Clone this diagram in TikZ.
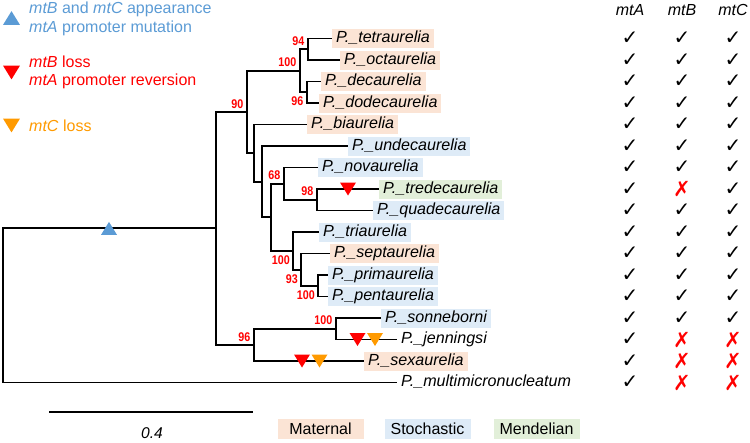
\documentclass[tikz,border=0pt]{standalone}
\usepackage{fontspec}
\setmainfont{Liberation Sans}
\newfontfamily\bsfont[FakeStretch=0.85]{Liberation Sans}
\newfontfamily\symfont{DejaVu Sans}
\definecolor{matfill}{HTML}{FBE4D5}
\definecolor{stofill}{HTML}{DEEBF7}
\definecolor{menfill}{HTML}{E2EFD9}
\definecolor{mtblue}{HTML}{5B9BD5}
\definecolor{mtred}{HTML}{FF0000}
\definecolor{mtorange}{HTML}{FF9A00}
\begin{document}
\begin{tikzpicture}[x=1pt,y=-1pt,
  branch/.style={line width=1.9pt, draw=black},
  leaf/.style={anchor=west, font=\fontsize{16.1}{18}\selectfont\itshape, inner xsep=4pt, inner ysep=2pt, text height=11.5pt, text depth=3.5pt},
  bsa/.style={anchor=south east, inner sep=0pt, text=mtred, font=\fontsize{12.6}{14}\selectfont\bsfont\bfseries},
  bsb/.style={anchor=north east, inner sep=0pt, text=mtred, font=\fontsize{12.6}{14}\selectfont\bsfont\bfseries},
  leg/.style={anchor=west, inner xsep=4pt, inner ysep=0pt, font=\fontsize{16}{18}\selectfont},
  hdr/.style={inner sep=0pt, font=\fontsize{16}{18}\selectfont\itshape},
  chk/.style={inner sep=0pt, font=\fontsize{20}{22}\selectfont\symfont},
  crs/.style={inner sep=0pt, text=mtred, font=\fontsize{21}{22}\selectfont\symfont},
  catbox/.style={minimum width=86pt, minimum height=20pt, inner sep=0pt, font=\fontsize{16}{18}\selectfont},
  utri/.pic={\fill (-8,6.5) -- (8,6.5) -- (0,-6.5) -- cycle;},
  dtri/.pic={\fill (-8,-6.5) -- (8,-6.5) -- (0,6.5) -- cycle;}
]
\useasboundingbox (0,0) rectangle (750,442);

% ---------- legend (top left)
\pic[mtblue, scale=1.06] at (11.5,18) {utri};
\node[leg, text=mtblue] (l1a) at (25,9.5) {\textit{mtB} and \textit{mtC} appearance};
\node[leg, text=mtblue] (l1b) at (25,28) {\textit{mtA} promoter mutation};
\pic[mtred, scale=1.06] at (11.5,72.5) {dtri};
\node[leg, text=mtred] (l2a) at (25,62) {\textit{mtB} loss};
\node[leg, text=mtred] (l2b) at (25,81) {\textit{mtA} promoter reversion};
\pic[mtorange, scale=1.06] at (11.5,125.5) {dtri};
\node[leg, text=mtorange] (l3a) at (25,126) {\textit{mtC} loss};

% ---------- leaves
\node[leaf, fill=matfill] (tetra) at (332,38.5) {P.\_tetraurelia};
\node[leaf, fill=matfill] (octa) at (340,60) {P.\_octaurelia};
\node[leaf, fill=matfill] (deca) at (321,81.5) {P.\_decaurelia};
\node[leaf, fill=matfill] (dodeca) at (319,103) {P.\_dodecaurelia};
\node[leaf, fill=matfill] (bi) at (307,124.5) {P.\_biaurelia};
\node[leaf, fill=stofill] (undeca) at (348,146) {P.\_undecaurelia};
\node[leaf, fill=stofill] (nova) at (318,167.5) {P.\_novaurelia};
\node[leaf, fill=menfill] (tredeca) at (379,189) {P.\_tredecaurelia};
\node[leaf, fill=stofill] (quadeca) at (373,210.5) {P.\_quadecaurelia};
\node[leaf, fill=stofill] (tri) at (319,232) {P.\_triaurelia};
\node[leaf, fill=matfill] (septa) at (330,253.5) {P.\_septaurelia};
\node[leaf, fill=stofill] (prima) at (328,275) {P.\_primaurelia};
\node[leaf, fill=stofill] (penta) at (328,296.5) {P.\_pentaurelia};
\node[leaf, fill=stofill] (sonne) at (381,318) {P.\_sonneborni};
\node[leaf] (jenn) at (397,339.5) {P.\_jenningsi};
\node[leaf, fill=matfill] (sexa) at (364,361) {P.\_sexaurelia};
\node[leaf] (multi) at (397,382.5) {P.\_multimicronucleatum};

% ---------- internal nodes
\coordinate (D) at (308,49.25);
\coordinate (E) at (307,92.25);
\coordinate (C) at (300,70.75);
\coordinate (K) at (317,199.75);
\coordinate (J) at (284,183.6);
\coordinate (M) at (318,285.75);
\coordinate (L) at (301,269.6);
\coordinate (I) at (293,250.8);
\coordinate (H) at (271,217.2);
\coordinate (G) at (262,181.6);
\coordinate (F) at (254,153);
\coordinate (B) at (247,111.9);
\coordinate (T) at (336,328.75);
\coordinate (S) at (254,344.9);
\coordinate (A) at (216,228.4);
\coordinate (R) at (3,305.5);

% ---------- branches
\draw[branch] (D) |- (tetra.west);
\draw[branch] (D) |- (octa.west);
\draw[branch] (E) |- (deca.west);
\draw[branch] (E) |- (dodeca.west);
\draw[branch] (C) |- (D);
\draw[branch] (C) |- (E);
\draw[branch] (B) |- (C);
\draw[branch] (B) |- (F);
\draw[branch] (F) |- (bi.west);
\draw[branch] (F) |- (G);
\draw[branch] (G) |- (undeca.west);
\draw[branch] (G) |- (H);
\draw[branch] (H) |- (J);
\draw[branch] (H) |- (I);
\draw[branch] (J) |- (nova.west);
\draw[branch] (J) |- (K);
\draw[branch] (K) |- (tredeca.west);
\draw[branch] (K) |- (quadeca.west);
\draw[branch] (I) |- (tri.west);
\draw[branch] (I) |- (L);
\draw[branch] (L) |- (septa.west);
\draw[branch] (L) |- (M);
\draw[branch] (M) |- (prima.west);
\draw[branch] (M) |- (penta.west);
\draw[branch] (T) |- (sonne.west);
\draw[branch] (T) |- (jenn.west);
\draw[branch] (S) |- (T);
\draw[branch] (S) |- (sexa.west);
\draw[branch] (A) |- (B);
\draw[branch] (A) |- (S);
\draw[branch] (R) |- (A);
\draw[branch] (R) |- (multi.west);

% ---------- bootstrap values
\node[bsa] (bB) at ([shift={(-3.5,-3.5)}]B) {90};
\node[bsa] (bC) at ([shift={(-3.5,-3.5)}]C) {100};
\node[bsa] (bD) at ([shift={(-3.5,-3.5)}]D) {94};
\node[bsb] (bE) at ([shift={(-3.5,4)}]E) {96};
\node[bsa] (bJ) at ([shift={(-3.5,-3.5)}]J) {68};
\node[bsa] (bK) at ([shift={(-3.5,-3.5)}]K) {98};
\node[bsb] (bI) at ([shift={(-3,5)}]I) {100};
\node[bsb] (bL) at ([shift={(-3,5)}]L) {93};
\node[bsb] (bM) at ([shift={(-3,5)}]M) {100};
\node[bsa] (bS) at ([shift={(-3.5,-3.5)}]S) {96};
\node[bsa] (bT) at ([shift={(-3.5,-3.5)}]T) {100};

% ---------- events on branches
\pic[mtblue] at (109,228.4) {utri};
\pic[mtred] at (348,189) {dtri};
\pic[mtred] at (357.5,339.5) {dtri};
\pic[mtorange] at (375,339.5) {dtri};
\pic[mtred] at (302,361) {dtri};
\pic[mtorange] at (319.5,361) {dtri};

% ---------- table
\node[hdr] (hA) at (630,10) {mtA};
\node[hdr] (hB) at (682,10) {mtB};
\node[hdr] (hC) at (733,10) {mtC};
\foreach \i in {0,...,16}{
  \pgfmathsetmacro\yy{38.5+21.5*\i}
  \pgfmathtruncatemacro\bx{(\i==7)||(\i>13)}
  \node[chk] (cA\i) at (630,\yy) {✓};
  \ifnum\bx=1 \node[crs] (cB\i) at (682,\yy) {✗}; \else \node[chk] (cB\i) at (682,\yy) {✓}; \fi
  \ifnum\i>13 \node[crs] (cC\i) at (733,\yy) {✗}; \else \node[chk] (cC\i) at (733,\yy) {✓}; \fi
}

% ---------- scale bar
\coordinate (sb1) at (49,412);
\coordinate (sb2) at (253,412);
\draw[branch] (sb1) -- (sb2);
\node[hdr, font=\fontsize{15.6}{18}\selectfont\itshape] (sbl) at (152,433) {0.4};

% ---------- category legend
\node[catbox, fill=matfill] (kmat) at (320.5,429) {Maternal};
\node[catbox, fill=stofill] (ksto) at (427.5,429) {Stochastic};
\node[catbox, fill=menfill] (kmen) at (536.5,429) {Mendelian};
\end{tikzpicture}
\end{document}
